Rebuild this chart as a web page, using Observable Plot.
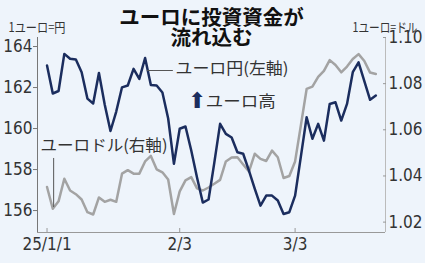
<!DOCTYPE html>
<html><head><meta charset="utf-8">
<script src="https://cdn.jsdelivr.net/npm/d3@7"></script>
<script src="https://cdn.jsdelivr.net/npm/@observablehq/plot@0.6"></script>
<style>
html,body{margin:0;padding:0;background:#eef4fb;}
</style></head><body><div id="chart"></div>
<script>
const dates = [
  "2025-01-01","2025-01-02","2025-01-03",
  "2025-01-06","2025-01-07","2025-01-08","2025-01-09","2025-01-10",
  "2025-01-13","2025-01-14","2025-01-15","2025-01-16","2025-01-17",
  "2025-01-20","2025-01-21","2025-01-22","2025-01-23","2025-01-24",
  "2025-01-27","2025-01-28","2025-01-29","2025-01-30","2025-01-31",
  "2025-02-03","2025-02-04","2025-02-05","2025-02-06","2025-02-07",
  "2025-02-10","2025-02-11","2025-02-12","2025-02-13","2025-02-14",
  "2025-02-17","2025-02-18","2025-02-19","2025-02-20","2025-02-21",
  "2025-02-24","2025-02-25","2025-02-26","2025-02-27","2025-02-28",
  "2025-03-03","2025-03-04","2025-03-05","2025-03-06","2025-03-07",
  "2025-03-10","2025-03-11","2025-03-12","2025-03-13","2025-03-14",
  "2025-03-17","2025-03-18","2025-03-19","2025-03-20","2025-03-21"
];
const eurJpy = [
  163.07,161.71,161.83,163.64,163.40,163.37,162.75,161.46,161.22,162.71,
  161.17,159.88,160.83,162.01,162.10,162.91,162.42,163.44,162.12,162.10,
  161.76,160.49,158.28,159.99,160.10,158.93,157.61,156.39,156.54,158.34,
  160.23,159.74,159.56,158.84,158.77,157.95,157.07,156.24,156.73,156.73,
  156.49,155.83,155.92,156.73,158.63,160.55,159.50,160.23,159.41,161.20,
  161.28,160.39,161.20,162.75,163.23,162.31,161.40,161.61
];
const eurUsd = [
  1.0352,1.0258,1.0290,1.0388,1.0337,1.0321,1.0298,1.0243,1.0233,1.0307,
  1.0288,1.0297,1.0288,1.0410,1.0425,1.0410,1.0410,1.0463,1.0487,1.0429,
  1.0416,1.0385,1.0235,1.0333,1.0381,1.0395,1.0346,1.0337,1.0350,1.0366,
  1.0383,1.0463,1.0480,1.0481,1.0450,1.0419,1.0496,1.0474,1.0465,1.0510,
  1.0481,1.0391,1.0400,1.0463,1.0619,1.0777,1.0787,1.0829,1.0855,1.0902,
  1.0881,1.0849,1.0874,1.0907,1.0928,1.0898,1.0848,1.0842
];
const xTickDates = ["2025-01-01","2025-02-03","2025-03-03"];
const xTickLabels = ["25/1/1","2/3","3/3"];
const leftTicks = [156,158,160,162,164];
const rightTicks = [1.02,1.04,1.06,1.08,1.10];
const title = "ユーロに投資資金が\n流れ込む";
const leftUnit = "1ユーロ=円";
const rightUnit = "1ユーロ=ドル";
const jpyLabel = "ユーロ円(左軸)";
const usdLabel = "ユーロドル(右軸)";
const riseLabel = "ユーロ高";
const arrowGlyph = "⬆";

const yenDomain = [154.93, 164.44];
const usdDomain = [1.0155, 1.1];
const xDomain = [-1.65, 58.67];
const toYen = d3.scaleLinear(usdDomain, yenDomain);
const xIndex = d => dates.indexOf(d);
const rows = dates.map((date, i) => ({i, date, jpy: eurJpy[i], usd: toYen(eurUsd[i])}));
const xTicks = xTickDates.map(xIndex);

const NAVY = "#1b2d5e", GRAY = "#a3a3a3", INK = "#333";
const tickFont = "'Liberation Sans Narrow','DejaVu Sans Condensed',sans-serif";
const jp = "'Noto Sans CJK JP',sans-serif";

const chart = Plot.plot({
  width: 425, height: 263,
  marginLeft: 37, marginRight: 40, marginTop: 37, marginBottom: 31,
  style: {background: "#eef4fb", fontFamily: tickFont, fontSize: "17px", color: INK, overflow: "visible"},
  x: {type: "linear", domain: xDomain},
  y: {domain: yenDomain},
  marks: [
    Plot.ruleX([xDomain[0]], {stroke: "#777"}),
    Plot.ruleX([xDomain[1]], {stroke: "#bbb"}),
    Plot.ruleY([yenDomain[0]], {stroke: "#999"}),
    Plot.axisY(leftTicks, {anchor: "left", tickSize: 4, tickPadding: 1, label: null, stroke: "#777", tickFormat: d => String(d)}),
    Plot.axisY(rightTicks.map(toYen), {anchor: "right", tickSize: -3, tickPadding: 6, label: null, stroke: "#999", tickFormat: d => toYen.invert(d).toFixed(2)}),
    Plot.axisX(xTicks, {anchor: "bottom", tickSize: -4, tickPadding: 9, label: null, stroke: "#999", tickFormat: d => xTickLabels[xTicks.indexOf(d)]}),
    Plot.line(rows, {x: "i", y: "usd", stroke: GRAY, strokeWidth: 2.5}),
    Plot.line(rows, {x: "i", y: "jpy", stroke: NAVY, strokeWidth: 2.5}),
    // annotations
    Plot.ruleY([162.83], {x1: 17.4, x2: 21.9, stroke: "#555", strokeWidth: 1}),
    Plot.text([jpyLabel], {x: 22.27, y: 162.93, text: d => d, textAnchor: "start", fontFamily: jp, fontSize: 16, fill: INK}),
    Plot.text([arrowGlyph], {x: 26.0, y: 161.36, text: d => d, fontFamily: "'DejaVu Sans'", fontSize: 22, fill: NAVY}),
    Plot.text([riseLabel], {x: 27.5, y: 161.32, text: d => d, textAnchor: "start", fontFamily: jp, fontSize: 16, fill: INK}),
    Plot.text([usdLabel], {x: -1.13, y: 159.17, text: d => d, textAnchor: "start", fontFamily: jp, fontSize: 16, fill: INK}),
    Plot.ruleX([1.15], {y1: 158.54, y2: 156.15, stroke: "#555", strokeWidth: 1}),
    // title and units
    Plot.text([title], {frameAnchor: "top", dy: -9, text: d => d, fontFamily: jp, fontWeight: "bold", fontSize: 20.5, lineHeight: 1.0, fill: "#111", lineAnchor: "middle"}),
    Plot.text([leftUnit], {frameAnchor: "top-left", dx: -29, dy: -15, text: d => d, textAnchor: "start", fontFamily: jp, fontSize: 13, fill: INK}),
    Plot.text([rightUnit], {frameAnchor: "top-right", dx: 32, dy: -15, text: d => d, textAnchor: "end", fontFamily: jp, fontSize: 13, fill: INK})
  ]
});

const squeeze = {};
squeeze[leftUnit] = 57; squeeze[rightUnit] = 65; squeeze[jpyLabel] = 113;
squeeze[usdLabel] = 127; squeeze[riseLabel] = 70;
d3.select(chart).selectAll("text").each(function () {
  const w = squeeze[this.textContent];
  if (w) { this.setAttribute("textLength", w); this.setAttribute("lengthAdjust", "spacingAndGlyphs"); }
});
document.getElementById("chart").appendChild(chart);
</script></body></html>
